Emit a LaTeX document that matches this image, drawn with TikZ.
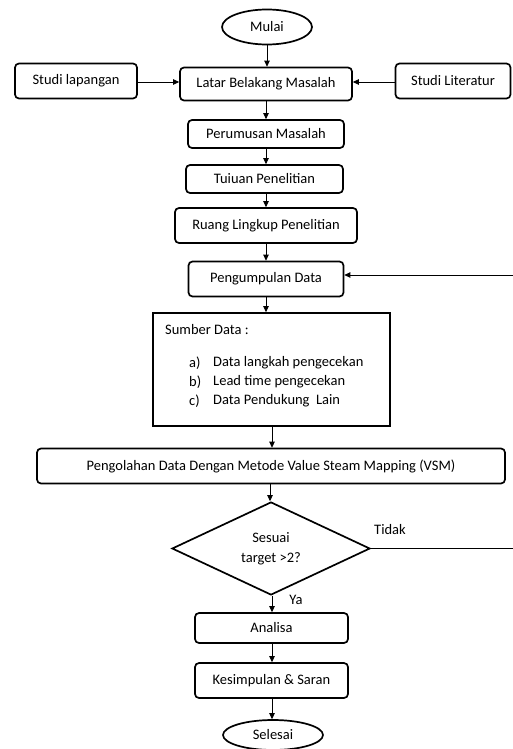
\documentclass[tikz,border=0pt]{standalone}
\usepackage{fontspec}
\setmainfont{Carlito}
\usetikzlibrary{shapes.geometric,arrows.meta}
\begin{document}
\begin{tikzpicture}[x=1pt,y=-1pt,
  txt/.style={font=\fontsize{14.5}{17}\selectfont, inner sep=0pt},
  box/.style={txt, draw, line width=1.7pt, rounded corners=4pt},
  sqbox/.style={draw, line width=1.7pt},
  term/.style={txt, draw, line width=1.7pt, ellipse},
  decision/.style={txt, draw, line width=1.7pt, diamond, align=center},
  arr/.style={line width=0.8pt, -{Triangle[length=6pt,width=5.5pt]}},
  ln/.style={line width=0.8pt}]
\useasboundingbox (0,0) rectangle (513,749);

\node[term, minimum width=90pt, minimum height=35pt] (mulai) at (267,27) {Mulai};
\node[box, minimum width=122pt, minimum height=35pt] (sl) at (76,81) {Studi lapangan};
\node[box, minimum width=172pt, minimum height=33pt] (latar) at (266,84) {Latar Belakang Masalah};
\node[box, minimum width=115pt, minimum height=35pt] (slit) at (453,81) {Studi Literatur};
\node[box, minimum width=156pt, minimum height=28pt] (rumus) at (266,134) {Perumusan Masalah};
\node[box, minimum width=157pt, minimum height=28pt] (tujuan) at (264.5,179) {Tuiuan Penelitian};
\node[box, minimum width=182pt, minimum height=35pt] (ruang) at (266,225.5) {Ruang Lingkup Penelitian};
\node[box, minimum width=155pt, minimum height=35pt] (kumpul) at (266,279) {Pengumpulan Data};
\node[sqbox, minimum width=237pt, minimum height=113pt] (sumber) at (271.5,369.5) {};
\node[txt, anchor=west] (sd) at (165,330) {Sumber Data :};
\node[txt, anchor=west] (la) at (189,363) {a)};
\node[txt, anchor=west] (ta) at (213,363) {Data langkah pengecekan};
\node[txt, anchor=west] (lb) at (189,382) {b)};
\node[txt, anchor=west] (tb) at (213,382) {Lead time pengecekan};
\node[txt, anchor=west] (lc) at (189,401) {c)};
\node[txt, anchor=west] (tc) at (213,401) {Data Pendukung\ \ Lain};
\node[box, minimum width=468pt, minimum height=35pt] (olah) at (271,466) {Pengolahan Data Dengan Metode Value Steam Mapping (VSM)};
\node[decision, minimum width=198pt, minimum height=93pt, aspect=2.13] (dec) at (271,548.5) {Sesuai\\[3pt]target >2?};
\node[txt] (tidak) at (390,530) {Tidak};
\node[txt] (ya) at (296,600) {Ya};
\node[box, minimum width=153pt, minimum height=30pt] (analisa) at (271.5,628) {Analisa};
\node[box, minimum width=153pt, minimum height=35pt] (simpul) at (271.5,680.5) {Kesimpulan \& Saran};
\node[term, minimum width=100pt, minimum height=30pt] (selesai) at (273,735) {Selesai};

\coordinate (fb) at (513,275);
\coordinate (td) at (513,548.5);

\draw[arr] (mulai.south) -- (mulai.south |- latar.north);
\draw[arr] (sl.east |- 0,82) -- (latar.west |- 0,82);
\draw[arr] (slit.west |- 0,82) -- (latar.east |- 0,82);
\draw[arr] (latar.south -| 266,0) -- (rumus.north -| 266,0);
\draw[arr] (rumus.south -| 266,0) -- (tujuan.north -| 266,0);
\draw[arr] (tujuan.south -| 266,0) -- (ruang.north -| 266,0);
\draw[arr] (ruang.south -| 266,0) -- (kumpul.north -| 266,0);
\draw[arr] (fb) -- (fb -| kumpul.east);
\draw[arr] (kumpul.south -| 266,0) -- (sumber.north -| 266,0);
\draw[arr] (sumber.south -| 272,0) -- (olah.north -| 272,0);
\draw[arr] (olah.south -| 270,0) -- (dec.north -| 270,0);
\draw[ln] (dec.east) -- (td);
\draw[arr] (dec.south -| 272,0) -- (analisa.north -| 272,0);
\draw[arr] (analisa.south -| 272,0) -- (simpul.north -| 272,0);
\draw[arr] (simpul.south -| 272,0) -- (selesai.north -| 272,0);
\end{tikzpicture}
\end{document}
